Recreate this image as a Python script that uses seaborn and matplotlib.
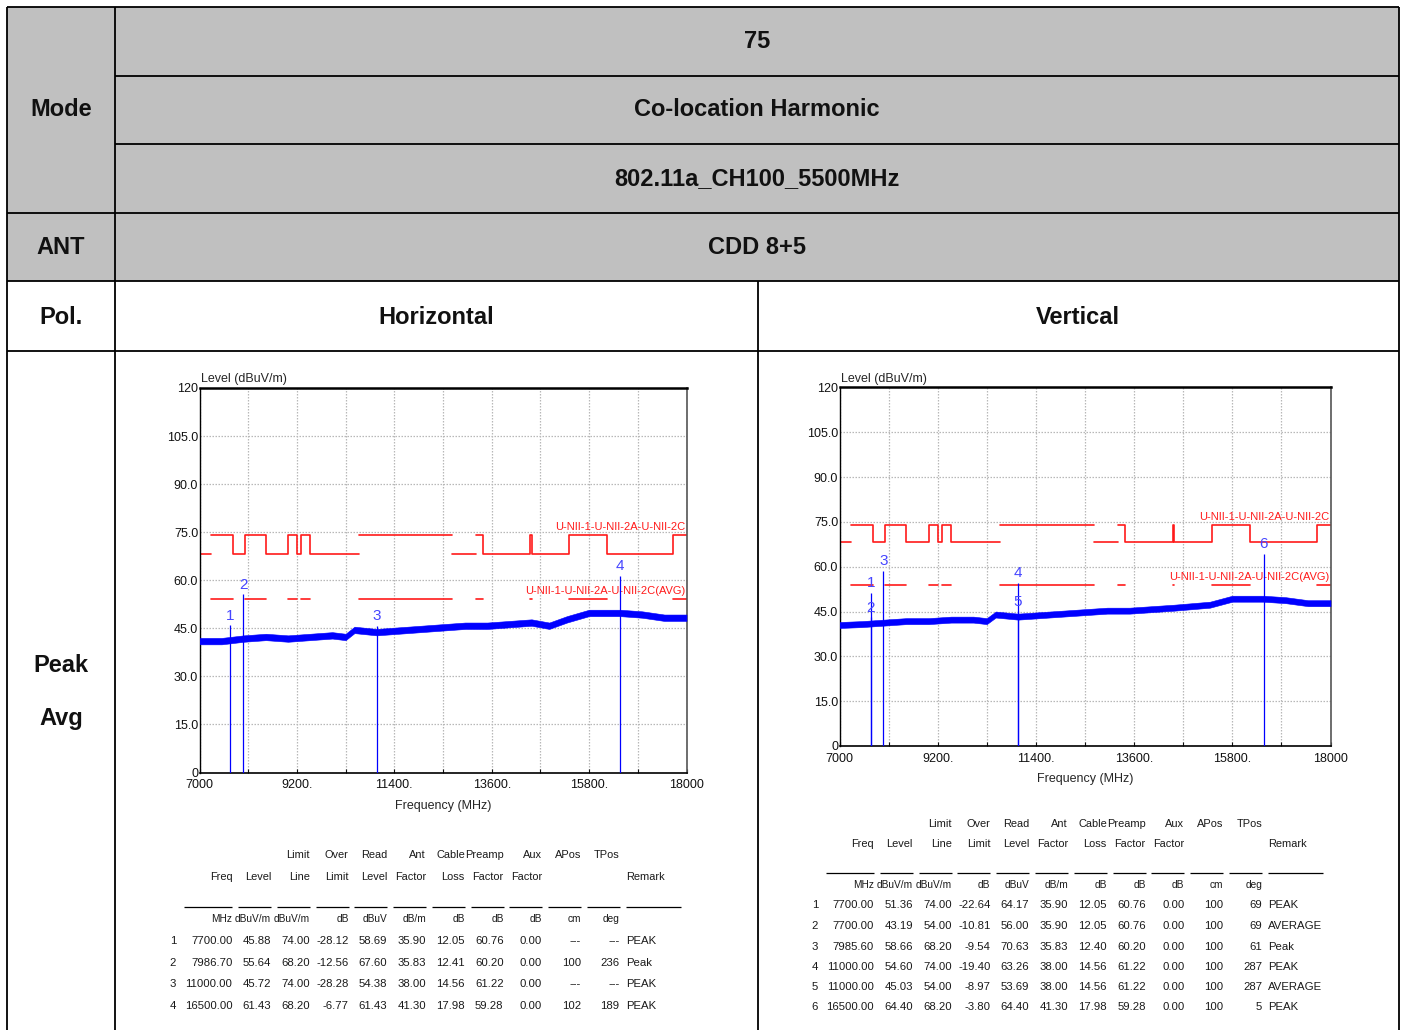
import numpy as np
import pandas as pd
import matplotlib
matplotlib.use("Agg")
import matplotlib.pyplot as plt
import seaborn as sns
from matplotlib.lines import Line2D
from matplotlib.patches import Rectangle

# ---------------- data ----------------
mode_test = "75"
mode_name = "Co-location Harmonic"
mode_channel = "802.11a_CH100_5500MHz"
ant_name = "CDD 8+5"
pol_labels = ["Horizontal", "Vertical"]

freq_ticks = [7000, 9200, 11400, 13600, 15800, 18000]
freq_tick_labels = ["7000", "9200.", "11400.", "13600.", "15800.", "18000"]
level_ticks = [0, 15, 30, 45, 60, 75, 90, 105, 120]
level_tick_labels = ["0", "15.0", "30.0", "45.0", "60.0", "75.0", "90.0", "105.0", "120"]

restricted_start = [7250, 8025, 9000, 9300, 10600, 13250, 14470, 15350, 17700]
restricted_end = [7750, 8500, 9200, 9500, 12700, 13400, 14500, 16200, 18000]
peak_limit_restricted = 74.0
peak_limit_other = 68.2
avg_limit = 54.0
limit_breaks = [7250, 10600, 12700, 13250]
peak_limit_name = "U-NII-1-U-NII-2A-U-NII-2C"
avg_limit_name = "U-NII-1-U-NII-2A-U-NII-2C(AVG)"

trace_freq = [7000, 7500, 8000, 8500, 9000, 9500, 10000, 10300, 10500, 11000, 11500, 12000,
              12500, 13000, 13500, 14000, 14500, 14900, 15300, 15800, 16500, 17000, 17500, 18000]
h_trace_low = [40.0, 40.0, 40.8, 41.3, 40.8, 41.3, 41.8, 41.3, 43.5, 42.8, 43.3, 43.8,
               44.3, 44.8, 44.8, 45.3, 45.8, 44.8, 46.8, 48.8, 48.8, 48.3, 47.3, 47.3]
h_trace_high = [42.0, 42.0, 42.8, 43.3, 42.8, 43.3, 43.8, 43.3, 45.5, 44.8, 45.3, 45.8,
                46.3, 46.8, 46.8, 47.3, 47.8, 46.8, 48.8, 50.8, 50.8, 50.3, 49.3, 49.3]
v_trace_low = [39.5, 39.8, 40.3, 40.8, 40.8, 41.3, 41.3, 40.8, 43.0, 42.3, 42.8, 43.3,
               43.8, 44.3, 44.3, 44.8, 45.3, 45.8, 46.3, 48.3, 48.3, 47.8, 46.8, 46.8]
v_trace_high = [41.5, 41.8, 42.3, 42.8, 42.8, 43.3, 43.3, 42.8, 45.0, 44.3, 44.8, 45.3,
                45.8, 46.3, 46.3, 46.8, 47.3, 47.8, 48.3, 50.3, 50.3, 49.8, 48.8, 48.8]

# measurement tables
h_no = ["1", "2", "3", "4"]
h_freq = ["7700.00", "7986.70", "11000.00", "16500.00"]
h_level = ["45.88", "55.64", "45.72", "61.43"]
h_limit = ["74.00", "68.20", "74.00", "68.20"]
h_over = ["-28.12", "-12.56", "-28.28", "-6.77"]
h_read = ["58.69", "67.60", "54.38", "61.43"]
h_ant = ["35.90", "35.83", "38.00", "41.30"]
h_cable = ["12.05", "12.41", "14.56", "17.98"]
h_preamp = ["60.76", "60.20", "61.22", "59.28"]
h_aux = ["0.00", "0.00", "0.00", "0.00"]
h_apos = ["---", "100", "---", "102"]
h_tpos = ["---", "236", "---", "189"]
h_remark = ["PEAK", "Peak", "PEAK", "PEAK"]

v_no = ["1", "2", "3", "4", "5", "6"]
v_freq = ["7700.00", "7700.00", "7985.60", "11000.00", "11000.00", "16500.00"]
v_level = ["51.36", "43.19", "58.66", "54.60", "45.03", "64.40"]
v_limit = ["74.00", "54.00", "68.20", "74.00", "54.00", "68.20"]
v_over = ["-22.64", "-10.81", "-9.54", "-19.40", "-8.97", "-3.80"]
v_read = ["64.17", "56.00", "70.63", "63.26", "53.69", "64.40"]
v_ant = ["35.90", "35.90", "35.83", "38.00", "38.00", "41.30"]
v_cable = ["12.05", "12.05", "12.40", "14.56", "14.56", "17.98"]
v_preamp = ["60.76", "60.76", "60.20", "61.22", "61.22", "59.28"]
v_aux = ["0.00", "0.00", "0.00", "0.00", "0.00", "0.00"]
v_apos = ["100", "100", "100", "100", "100", "100"]
v_tpos = ["69", "69", "61", "287", "287", "5"]
v_remark = ["PEAK", "AVERAGE", "Peak", "PEAK", "AVERAGE", "PEAK"]

head_row1 = ["", "", "Limit", "Over", "Read", "Ant", "Cable", "Preamp", "Aux", "APos", "TPos"]
head_row2 = ["Freq", "Level", "Line", "Limit", "Level", "Factor", "Loss", "Factor", "Factor", "", ""]
head_units = ["MHz", "dBuV/m", "dBuV/m", "dB", "dBuV", "dB/m", "dB", "dB", "dB", "cm", "deg"]

# marker points drawn on the plots (from the tables)
h_mark_freq = [7700.0, 7986.7, 11000.0, 16500.0]
h_mark_level = [45.88, 55.64, 45.72, 61.43]
v_mark_freq = [7700.0, 7700.0, 7985.6, 11000.0, 11000.0, 16500.0]
v_mark_level = [51.36, 43.19, 58.66, 54.60, 45.03, 64.40]

# ---------------- style ----------------
sns.set_style("white")
plt.rcParams["font.family"] = ["Liberation Sans", "DejaVu Sans"]
NARROW = ["Liberation Sans Narrow", "Liberation Sans", "DejaVu Sans"]
BOLD = ["Liberation Sans", "DejaVu Sans"]
RED = "#ff1a1a"
BLUE = "#0000ff"
MARK_BLUE = "#4646ff"
GRAY = "#c0c0c0"

W, H = 1405, 1030
fig = plt.figure(figsize=(W / 100, H / 100), dpi=100)


def fx(x):
    return x / W


def fy(y):
    return 1 - y / H


# ---------------- outer table ----------------
fig.add_artist(Rectangle((fx(7), fy(281)), fx(1399) - fx(7), fy(7) - fy(281),
                         transform=fig.transFigure, facecolor=GRAY, edgecolor="none", zorder=0))


def hline(y, x0, x1, lw=1.3):
    fig.add_artist(Line2D([fx(x0), fx(x1)], [fy(y), fy(y)], transform=fig.transFigure,
                          color="black", lw=lw, solid_capstyle="butt"))


def vline(x, y0, y1, lw=1.3):
    fig.add_artist(Line2D([fx(x), fx(x)], [fy(y0), fy(y1)], transform=fig.transFigure,
                          color="black", lw=lw, solid_capstyle="butt"))


hline(7, 7, 1399)
hline(75.5, 115, 1399)
hline(144, 115, 1399)
hline(212.5, 7, 1399)
hline(281, 7, 1399)
hline(350.5, 7, 1399)
vline(7, 7, 1030)
vline(115.5, 7, 1030)
vline(757.5, 281, 1030)
vline(1398.5, 7, 1030)


def cell_text(x, y, s):
    fig.text(fx(x), fy(y), s, ha="center", va="center", fontsize=17, fontweight="bold",
             family=BOLD, color="#111111")


cell_text(61, 110, "Mode")
cell_text(757, 41, mode_test)
cell_text(757, 110, mode_name)
cell_text(757, 179, mode_channel)
cell_text(61, 248, "ANT")
cell_text(757, 248, ant_name)
cell_text(61, 317, "Pol.")
cell_text(436, 317, pol_labels[0])
cell_text(1078, 317, pol_labels[1])
cell_text(61, 666, "Peak")
cell_text(61, 718, "Avg")


# ---------------- limit line data frames ----------------
def peak_limit_frame():
    edges = sorted(set([freq_ticks[0], freq_ticks[-1]] + restricted_start + restricted_end))
    rows = []
    seg = 0
    for i, (a, b) in enumerate(zip(edges[:-1], edges[1:])):
        inside = any(s <= a and b <= e for s, e in zip(restricted_start, restricted_end))
        lv = peak_limit_restricted if inside else peak_limit_other
        if i > 0 and a in limit_breaks:
            seg += 1
        rows.append((seg, a, lv))
        rows.append((seg, b, lv))
    return pd.DataFrame(rows, columns=["seg", "freq", "level"])


def avg_limit_frame():
    rows = []
    for k, (s, e) in enumerate(zip(restricted_start, restricted_end)):
        rows.append((k, s, avg_limit))
        rows.append((k, e, avg_limit))
    return pd.DataFrame(rows, columns=["seg", "freq", "level"])


peak_df = peak_limit_frame()
avg_df = avg_limit_frame()


def draw_plot(rect, low, high, mark_f, mark_l):
    x0, y0, x1, y1 = rect
    ax = fig.add_axes([fx(x0), fy(y1), fx(x1) - fx(x0), fy(y0) - fy(y1)])
    ax.set_facecolor("white")
    ax.set_xlim(freq_ticks[0], freq_ticks[-1])
    ax.set_ylim(level_ticks[0], level_ticks[-1])

    grid_x = np.arange(freq_ticks[0], freq_ticks[-1] + 1, 1100)
    ax.set_xticks(grid_x)
    ax.set_xticklabels([freq_tick_labels[freq_ticks.index(g)] if g in freq_ticks else "" for g in grid_x],
                       family=NARROW, fontsize=9)
    ax.set_yticks(level_ticks)
    ax.set_yticklabels(level_tick_labels, family=NARROW, fontsize=9)
    ax.grid(True, color="#b8b8b8", linestyle=(0, (1.2, 1.2)), lw=0.9)
    ax.tick_params(axis="x", direction="in", length=3, width=0.8, pad=5, colors="#111111", bottom=True)
    ax.tick_params(axis="y", length=0, pad=1, colors="#111111", left=True)
    for side, lw, col in [("top", 1.8, "black"), ("bottom", 1.2, "black"),
                          ("left", 1.0, "black"), ("right", 1.2, "#555555")]:
        ax.spines[side].set_visible(True)
        ax.spines[side].set_linewidth(lw)
        ax.spines[side].set_color(col)

    # limits
    sns.lineplot(data=peak_df, x="freq", y="level", units="seg", estimator=None, sort=False,
                 color=RED, lw=1.2, ax=ax, legend=False)
    sns.lineplot(data=avg_df, x="freq", y="level", units="seg", estimator=None, sort=False,
                 color=RED, lw=1.2, ax=ax, legend=False)
    ax.text(0.997, peak_limit_restricted + 1.0, peak_limit_name, transform=ax.get_yaxis_transform(),
            ha="right", va="bottom", color=RED, fontsize=8, family=NARROW)
    ax.text(0.997, avg_limit + 1.0, avg_limit_name, transform=ax.get_yaxis_transform(),
            ha="right", va="bottom", color=RED, fontsize=8, family=NARROW)

    # trace band
    ax.fill_between(trace_freq, low, high, color=BLUE, lw=0.4, zorder=3)

    # markers
    ax.vlines(mark_f, 0, mark_l, color=BLUE, lw=0.9, zorder=4)
    for i, (f, l) in enumerate(zip(mark_f, mark_l)):
        ax.text(f, l + 0.8, str(i + 1), ha="center", va="bottom", color=MARK_BLUE,
                fontsize=11, family=NARROW, zorder=5)

    ax.set_xlabel("")
    ax.set_ylabel("")
    ax.annotate("Level (dBuV/m)", xy=(0, 1), xycoords="axes fraction", xytext=(1, 2),
                textcoords="offset points", ha="left", va="bottom", fontsize=9, family=NARROW)
    ax.annotate("Frequency (MHz)", xy=(0.5, 0), xycoords="axes fraction", xytext=(0, -33 * 0.72),
                textcoords="offset points", ha="center", va="center", fontsize=9, family=NARROW)
    return ax


draw_plot((199.5, 388, 686.5, 772.5), h_trace_low, h_trace_high, h_mark_freq, h_mark_level)
draw_plot((839.5, 387.5, 1330.5, 746), v_trace_low, v_trace_high, v_mark_freq, v_mark_level)


# ---------------- measurement tables ----------------
def draw_table(x_no, x_first, step, y_h1, y_h2, y_ul, y_units, y_rows, cols, no, remark):
    edges = [x_first + step * k for k in range(11)]
    x_remark = edges[-1] + 6
    kw = dict(fontsize=8.2, family=NARROW, color="#1a1a1a", va="center")
    kw_head = dict(kw, fontsize=7.9)
    kw_units = dict(kw, fontsize=7.3)
    for k, e in enumerate(edges):
        if head_row1[k]:
            fig.text(fx(e), fy(y_h1), head_row1[k], ha="right", **kw_head)
        if head_row2[k]:
            fig.text(fx(e), fy(y_h2), head_row2[k], ha="right", **kw_head)
        fig.text(fx(e), fy(y_units), head_units[k], ha="right", **kw_units)
        start = e - (48 if k == 0 else 33)
        hline(y_ul, start, e, lw=0.9)
    fig.text(fx(x_remark), fy(y_h2), "Remark", ha="left", **kw_head)
    hline(y_ul, x_remark, x_remark + 55, lw=0.9)
    for r, y in enumerate(y_rows):
        fig.text(fx(x_no), fy(y), no[r], ha="center", **kw)
        for k, e in enumerate(edges):
            fig.text(fx(e), fy(y), cols[k][r], ha="right", **kw)
        fig.text(fx(x_remark), fy(y), remark[r], ha="left", **kw)


draw_table(173, 232.4, 38.73, 855, 877, 907, 919, [941, 962.5, 984, 1006],
           [h_freq, h_level, h_limit, h_over, h_read, h_ant, h_cable, h_preamp, h_aux, h_apos, h_tpos],
           h_no, h_remark)
draw_table(815, 874.1, 38.79, 824, 844, 872.5, 885, [905.5, 926, 946.5, 967, 987, 1007.5],
           [v_freq, v_level, v_limit, v_over, v_read, v_ant, v_cable, v_preamp, v_aux, v_apos, v_tpos],
           v_no, v_remark)

fig.savefig("out.png", dpi=100, facecolor="white")
